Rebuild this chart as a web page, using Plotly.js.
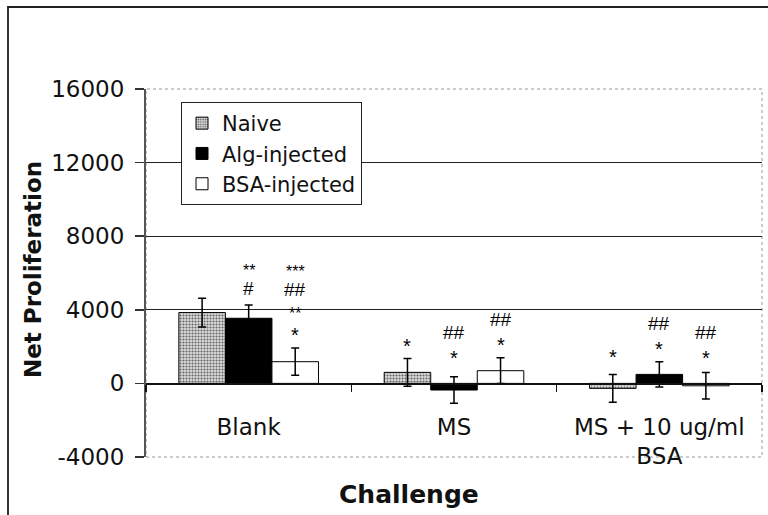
<!DOCTYPE html>
<html>
<head>
<meta charset="utf-8">
<script src="https://cdn.plot.ly/plotly-3.0.1.min.js"></script>
<style>
html,body{margin:0;padding:0;background:#fff;}
#wrap{position:relative;width:768px;height:515px;}
#chart{width:768px;height:515px;}
#frame{position:absolute;left:7px;top:6px;width:761px;height:509px;border-top:2px solid #222;border-left:2px solid #333;pointer-events:none;box-sizing:border-box;}
</style>
</head>
<body>
<div id="wrap"><div id="chart"></div><div id="frame"></div></div>
<script>
const categories = ['Blank', 'MS', 'MS + 10 ug/ml<br>BSA'];
const seriesNames = ['Naive', 'Alg-injected', 'BSA-injected'];
const naiveValues = [3850, 600, -270];
const naiveErrors = [780, 750, 750];
const algValues = [3540, -360, 490];
const algErrors = [720, 720, 690];
const bsaValues = [1180, 690, -130];
const bsaErrors = [740, 700, 720];
// significance marks per category, listed bottom to top
const naiveSig = [[], ['*'], ['*']];
const algSig = [['#', '**'], ['*', '##'], ['*', '##']];
const bsaSig = [['*', '**', '##', '***'], ['*', '##'], ['*', '##']];
const yTicks = [-4000, 0, 4000, 8000, 12000, 16000];

const W = 768, H = 515;
const M = {l: 146, r: 6, t: 89, b: 58};
const plotW = W - M.l - M.r, plotH = H - M.t - M.b;
const bargap = 0.32;
const yMin = -4000, yMax = 16000;
const px = (xpx) => (xpx - M.l) / plotW;
const py = (ypx) => (H - M.b - ypx) / plotH;

const base = {type: 'bar', x: categories,
  error_y: {type: 'data', visible: true, color: '#000', thickness: 1.5, width: 4}};

const traces = [
  Object.assign({}, base, {name: seriesNames[0], y: naiveValues,
    error_y: Object.assign({}, base.error_y, {array: naiveErrors}),
    marker: {color: '#c8c8c8', line: {color: '#000', width: 1},
      pattern: {shape: '.', fgcolor: '#666', bgcolor: '#dcdcdc', size: 3, solidity: 0.4}}}),
  Object.assign({}, base, {name: seriesNames[1], y: algValues,
    error_y: Object.assign({}, base.error_y, {array: algErrors}),
    marker: {color: '#000', line: {color: '#000', width: 1}}}),
  Object.assign({}, base, {name: seriesNames[2], y: bsaValues,
    error_y: Object.assign({}, base.error_y, {array: bsaErrors}),
    marker: {color: '#fff', line: {color: '#000', width: 1}}})
];

const allVals = [naiveValues, algValues, bsaValues];
const allErr = [naiveErrors, algErrors, bsaErrors];
const allSig = [naiveSig, algSig, bsaSig];
const catPx = plotW / categories.length;
const barPx = catPx * (1 - bargap) / 3;
const annotations = [];
for (let s = 0; s < 3; s++) {
  for (let c = 0; c < categories.length; c++) {
    const lines = allSig[s][c];
    const top = Math.max(allVals[s][c], 0) + allErr[s][c];
    lines.forEach((t, k) => {
      const isStar = t.indexOf('*') === 0;
      const size = isStar ? (t.length > 1 ? 16 : 20) : 19;
      annotations.push({x: categories[c], y: top, xref: 'x', yref: 'y',
        xshift: (s - 1) * barPx, yshift: 17 + 21 * k - (isStar ? size * 0.22 : 0),
        xanchor: 'center', yanchor: 'middle', showarrow: false, text: t,
        font: {family: 'Liberation Sans, Arial', size: size, color: '#000'}});
    });
  }
}
annotations.push({xref: 'paper', yref: 'paper', x: px(409), y: py(494), xanchor: 'center', yanchor: 'middle',
  showarrow: false, text: '<b>Challenge</b>', font: {family: 'DejaVu Sans', size: 25, color: '#111'}});
annotations.push({xref: 'paper', yref: 'paper', x: px(33), y: py(270), xanchor: 'center', yanchor: 'middle',
  showarrow: false, textangle: -90,
  text: '<b>Net Proliferation</b>', font: {family: 'DejaVu Sans', size: 23, color: '#111'}});

const shapes = [
  {type: 'rect', xref: 'paper', yref: 'paper', x0: 0, x1: 1, y0: 0, y1: 1,
    line: {color: '#999', width: 1, dash: 'dot'}, layer: 'below'}
];

const layout = {
  width: W, height: H, margin: M, paper_bgcolor: '#fff', plot_bgcolor: '#fff',
  barmode: 'group', bargap: bargap, bargroupgap: 0, showlegend: true,
  font: {family: 'DejaVu Sans', color: '#111'},
  xaxis: {type: 'category', anchor: 'free', position: (0 - yMin) / (yMax - yMin),
    showline: true, linecolor: '#111', linewidth: 1.5, ticks: 'outside', ticklen: 7, tickwidth: 1.5,
    tickcolor: '#111', tickson: 'boundaries', showgrid: false, ticklabelstandoff: 22,
    tickfont: {family: 'DejaVu Sans', size: 23, color: '#111'}, fixedrange: true},
  yaxis: {range: [yMin, yMax], tickvals: yTicks, ticktext: yTicks.map(String), showline: true,
    linecolor: '#555', linewidth: 2, ticks: 'outside', ticklen: 9, tickwidth: 1.5, tickcolor: '#333',
    showgrid: true, gridcolor: '#222', gridwidth: 1, zeroline: false, ticklabelstandoff: 6,
    tickfont: {family: 'DejaVu Sans', size: 23, color: '#111'}},
  legend: {x: px(181), y: py(102), xanchor: 'left', yanchor: 'top', bgcolor: '#fff',
    bordercolor: '#222', borderwidth: 1, font: {family: 'DejaVu Sans', size: 21, color: '#111'},
    itemwidth: 30, tracegroupgap: 0},
  annotations: annotations, shapes: shapes
};

Plotly.newPlot('chart', traces, layout, {staticPlot: true, displayModeBar: false});
</script>
</body>
</html>
